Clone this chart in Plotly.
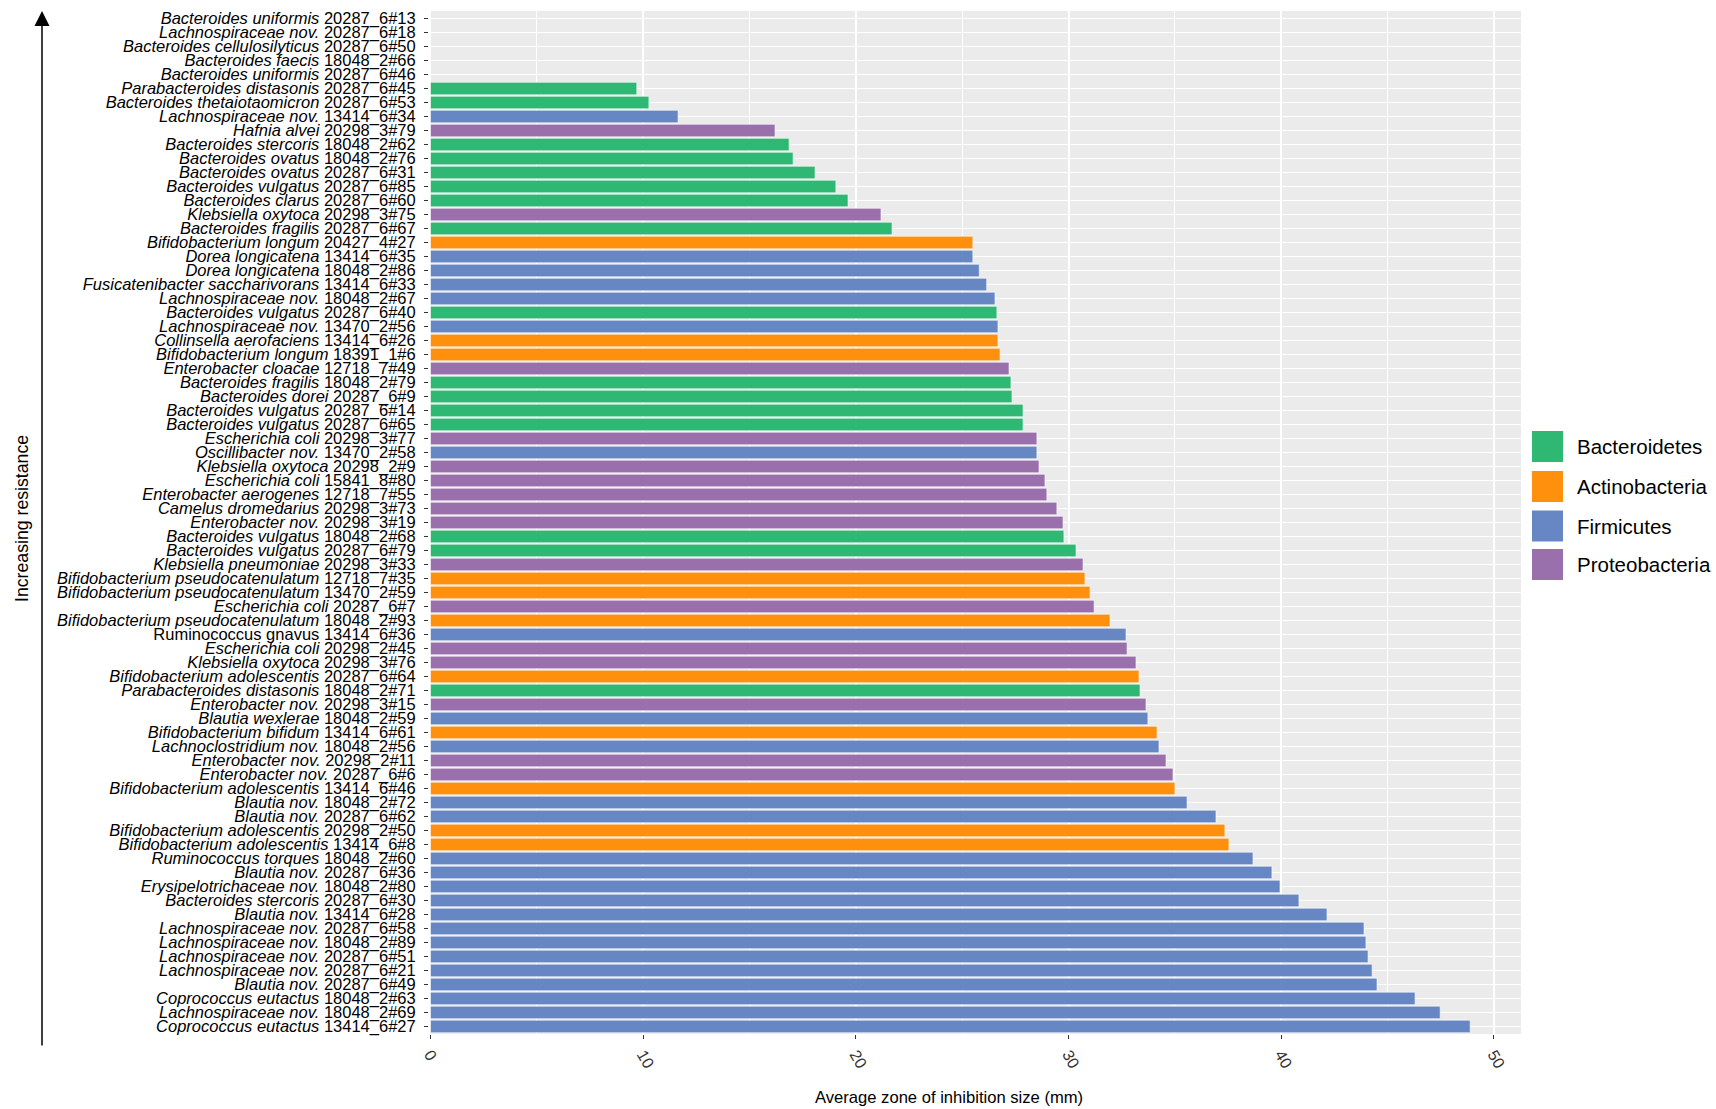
import plotly.graph_objects as go

species = [
    "Bacteroides uniformis", "Lachnospiraceae nov.", "Bacteroides cellulosilyticus", "Bacteroides faecis",
    "Bacteroides uniformis", "Parabacteroides distasonis", "Bacteroides thetaiotaomicron", "Lachnospiraceae nov.",
    "Hafnia alvei", "Bacteroides stercoris", "Bacteroides ovatus", "Bacteroides ovatus",
    "Bacteroides vulgatus", "Bacteroides clarus", "Klebsiella oxytoca", "Bacteroides fragilis",
    "Bifidobacterium longum", "Dorea longicatena", "Dorea longicatena", "Fusicatenibacter saccharivorans",
    "Lachnospiraceae nov.", "Bacteroides vulgatus", "Lachnospiraceae nov.", "Collinsella aerofaciens",
    "Bifidobacterium longum", "Enterobacter cloacae", "Bacteroides fragilis", "Bacteroides dorei",
    "Bacteroides vulgatus", "Bacteroides vulgatus", "Escherichia coli", "Oscillibacter nov.",
    "Klebsiella oxytoca", "Escherichia coli", "Enterobacter aerogenes", "Camelus dromedarius",
    "Enterobacter nov.", "Bacteroides vulgatus", "Bacteroides vulgatus", "Klebsiella pneumoniae",
    "Bifidobacterium pseudocatenulatum", "Bifidobacterium pseudocatenulatum", "Escherichia coli",
    "Bifidobacterium pseudocatenulatum", "Ruminococcus gnavus", "Escherichia coli", "Klebsiella oxytoca",
    "Bifidobacterium adolescentis", "Parabacteroides distasonis", "Enterobacter nov.", "Blautia wexlerae",
    "Bifidobacterium bifidum", "Lachnoclostridium nov.", "Enterobacter nov.", "Enterobacter nov.",
    "Bifidobacterium adolescentis", "Blautia nov.", "Blautia nov.", "Bifidobacterium adolescentis",
    "Bifidobacterium adolescentis", "Ruminococcus torques", "Blautia nov.", "Erysipelotrichaceae nov.",
    "Bacteroides stercoris", "Blautia nov.", "Lachnospiraceae nov.", "Lachnospiraceae nov.",
    "Lachnospiraceae nov.", "Lachnospiraceae nov.", "Blautia nov.", "Coprococcus eutactus",
    "Lachnospiraceae nov.", "Coprococcus eutactus",
]

strains = [
    "20287_6#13", "20287_6#18", "20287_6#50", "18048_2#66", "20287_6#46", "20287_6#45", "20287_6#53",
    "13414_6#34", "20298_3#79", "18048_2#62", "18048_2#76", "20287_6#31", "20287_6#85", "20287_6#60",
    "20298_3#75", "20287_6#67", "20427_4#27", "13414_6#35", "18048_2#86", "13414_6#33", "18048_2#67",
    "20287_6#40", "13470_2#56", "13414_6#26", "18391_1#6", "12718_7#49", "18048_2#79", "20287_6#9",
    "20287_6#14", "20287_6#65", "20298_3#77", "13470_2#58", "20298_2#9", "15841_8#80", "12718_7#55",
    "20298_3#73", "20298_3#19", "18048_2#68", "20287_6#79", "20298_3#33", "12718_7#35", "13470_2#59",
    "20287_6#7", "18048_2#93", "13414_6#36", "20298_2#45", "20298_3#76", "20287_6#64", "18048_2#71",
    "20298_3#15", "18048_2#59", "13414_6#61", "18048_2#56", "20298_2#11", "20287_6#6", "13414_6#46",
    "18048_2#72", "20287_6#62", "20298_2#50", "13414_6#8", "18048_2#60", "20287_6#36", "18048_2#80",
    "20287_6#30", "13414_6#28", "20287_6#58", "18048_2#89", "20287_6#51", "20287_6#21", "20287_6#49",
    "18048_2#63", "18048_2#69", "13414_6#27",
]

phylum = [
    "Bacteroidetes", "Firmicutes", "Bacteroidetes", "Bacteroidetes", "Bacteroidetes", "Bacteroidetes",
    "Bacteroidetes", "Firmicutes", "Proteobacteria", "Bacteroidetes", "Bacteroidetes", "Bacteroidetes",
    "Bacteroidetes", "Bacteroidetes", "Proteobacteria", "Bacteroidetes", "Actinobacteria", "Firmicutes",
    "Firmicutes", "Firmicutes", "Firmicutes", "Bacteroidetes", "Firmicutes", "Actinobacteria",
    "Actinobacteria", "Proteobacteria", "Bacteroidetes", "Bacteroidetes", "Bacteroidetes", "Bacteroidetes",
    "Proteobacteria", "Firmicutes", "Proteobacteria", "Proteobacteria", "Proteobacteria", "Proteobacteria",
    "Proteobacteria", "Bacteroidetes", "Bacteroidetes", "Proteobacteria", "Actinobacteria", "Actinobacteria",
    "Proteobacteria", "Actinobacteria", "Firmicutes", "Proteobacteria", "Proteobacteria", "Actinobacteria",
    "Bacteroidetes", "Proteobacteria", "Firmicutes", "Actinobacteria", "Firmicutes", "Proteobacteria",
    "Proteobacteria", "Actinobacteria", "Firmicutes", "Firmicutes", "Actinobacteria", "Actinobacteria",
    "Firmicutes", "Firmicutes", "Firmicutes", "Firmicutes", "Firmicutes", "Firmicutes", "Firmicutes",
    "Firmicutes", "Firmicutes", "Firmicutes", "Firmicutes", "Firmicutes", "Firmicutes",
]

zone_mm = [
    0, 0, 0, 0, 0, 9.70, 10.27, 11.64, 16.20, 16.86, 17.05, 18.08, 19.06, 19.63, 21.18, 21.70,
    25.50, 25.50, 25.80, 26.15, 26.54, 26.63, 26.68, 26.68, 26.78, 27.20, 27.29, 27.34, 27.86, 27.86,
    28.51, 28.51, 28.61, 28.89, 28.98, 29.45, 29.74, 29.78, 30.35, 30.68, 30.77, 31.01, 31.20, 31.95,
    32.70, 32.75, 33.17, 33.31, 33.36, 33.64, 33.73, 34.16, 34.25, 34.58, 34.91, 35.00, 35.57, 36.93,
    37.35, 37.54, 38.67, 39.56, 39.94, 40.83, 42.15, 43.89, 43.98, 44.08, 44.27, 44.50, 46.29, 47.47,
    48.88,
]

upright_strains = ["13414_6#36"]

phyla = ["Bacteroidetes", "Actinobacteria", "Firmicutes", "Proteobacteria"]
phylum_colors = ["#2FB874", "#FF900E", "#6787C4", "#9A70AC"]

x_ticks = [0, 10, 20, 30, 40, 50]

labels = [
    (f"{sp} {st}" if st in upright_strains else f"<i>{sp}</i> {st}")
    for sp, st in zip(species, strains)
]

FONT = "Liberation Sans, Arial, Helvetica, sans-serif"

fig = go.Figure()
for ph, col in zip(phyla, phylum_colors):
    idx = [i for i, p in enumerate(phylum) if p == ph]
    fig.add_trace(go.Bar(
        x=[zone_mm[i] for i in idx],
        y=[strains[i] for i in idx],
        orientation="h",
        name=ph,
        marker=dict(color=col, line=dict(color="white", width=0.6)),
        showlegend=False,
        hovertemplate="%{y}: %{x}<extra>" + ph + "</extra>",
    ))

n = len(strains)
fig.update_layout(
    width=1716, height=1109,
    margin=dict(l=429, r=195, t=11, b=75),
    paper_bgcolor="white",
    plot_bgcolor="#EBEBEB",
    barmode="overlay",
    bargap=0.1,
    font=dict(family=FONT, color="#000000"),
    xaxis=dict(
        automargin=False,
        range=[-0.07, 51.27],
        tickvals=x_ticks,
        ticktext=[str(t) for t in x_ticks],
        tickangle=60,
        tickfont=dict(size=16, color="#333333"),
        ticks="outside", ticklen=4, tickwidth=1.1, tickcolor="#333333",
        showgrid=True, gridcolor="white", gridwidth=1.5,
        minor=dict(dtick=5, tick0=0, showgrid=True, gridcolor="white", gridwidth=0.8),
        zeroline=False, showline=False,
    ),
    yaxis=dict(
        automargin=False,
        type="category",
        categoryorder="array", categoryarray=strains,
        tickvals=strains, ticktext=labels,
        range=[n - 1 + 0.54, -0.54],
        tickfont=dict(size=16.5, color="#000000"),
        ticks="outside", ticklen=4, tickwidth=1.1, tickcolor="#333333",
        ticklabelstandoff=5,
        showgrid=True, gridcolor="white", gridwidth=1,
        zeroline=False, showline=False,
    ),
)

# axis titles
fig.add_annotation(
    text="Average zone of inhibition size (mm)", xref="paper", yref="paper",
    x=(949 - 429) / 1092, y=(1034 - 1097) / 1023, showarrow=False,
    font=dict(size=16.6, color="#000000"), xanchor="center", yanchor="middle",
)
fig.add_annotation(
    text="Increasing resistance", xref="paper", yref="paper",
    x=(22 - 429) / 1092, y=(1034 - 519) / 1023, showarrow=False, textangle=-90,
    font=dict(size=17.7, color="#000000"), xanchor="center", yanchor="middle",
)
# resistance arrow
fig.add_annotation(
    text="", xref="paper", yref="paper",
    x=(42 - 429) / 1092, y=(1034 - 11) / 1023,
    axref="pixel", ayref="pixel", ax=0, ay=1036,
    showarrow=True, arrowhead=2, arrowsize=2.0, arrowwidth=1.5, arrowcolor="black",
)

# legend
leg_centers = [446.5, 486.5, 526.0, 564.5]
for ph, col, cy in zip(phyla, phylum_colors, leg_centers):
    fig.add_shape(
        type="rect", xref="paper", yref="paper",
        x0=(1532 - 429) / 1092, x1=(1563 - 429) / 1092,
        y0=(1034 - (cy - 15.5)) / 1023, y1=(1034 - (cy + 15.5)) / 1023,
        fillcolor=col, line=dict(width=0),
    )
    fig.add_annotation(
        text=ph, xref="paper", yref="paper",
        x=(1575 - 429) / 1092, y=(1034 - cy) / 1023,
        showarrow=False, xanchor="left", yanchor="middle",
        font=dict(size=20.5, color="#000000"),
    )

fig.write_html("out.html")
